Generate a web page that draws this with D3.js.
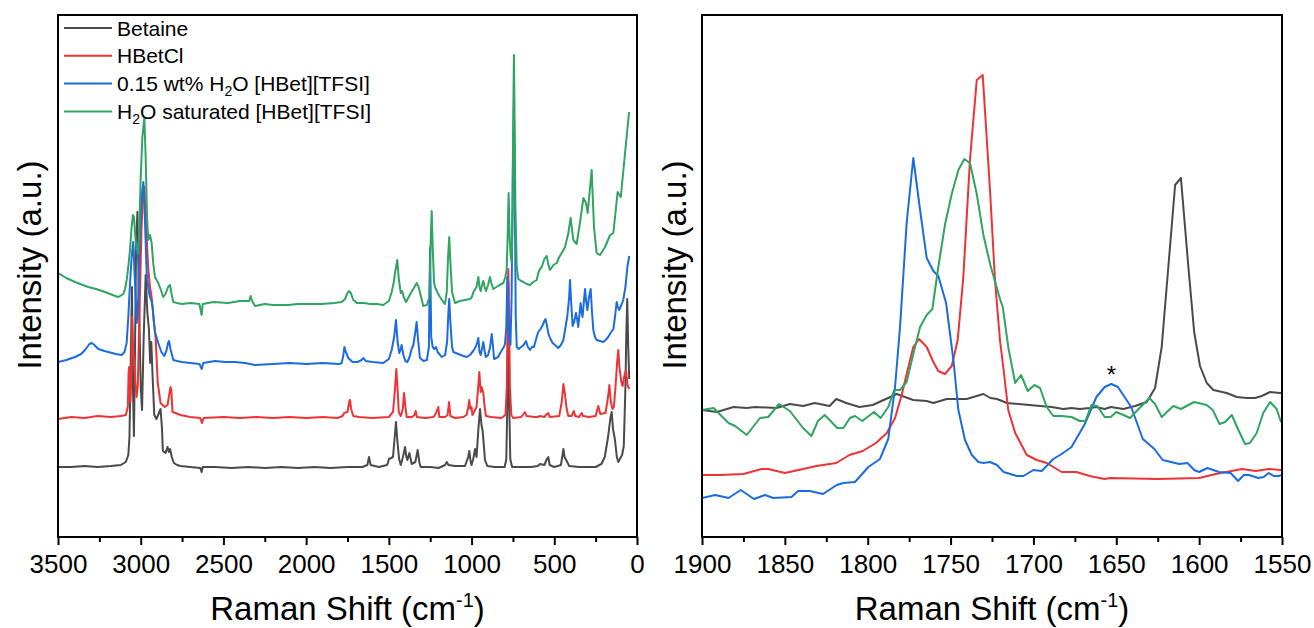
<!DOCTYPE html>
<html><head><meta charset="utf-8">
<script src="https://cdn.jsdelivr.net/npm/d3@7"></script>
<style>
body{margin:0;background:#fff}
svg{display:block}
text{font-family:Arial,'Liberation Sans',sans-serif;fill:#000}
</style>
</head><body>
<svg id="chart" width="1314" height="628"></svg>
<script>
// ---------- data ----------
const seriesNames = ["Betaine", "HBetCl", "0.15 wt% H2O [HBet][TFSI]", "H2O saturated [HBet][TFSI]"];
const seriesColors = ["#4a4a4a", "#ee3336", "#1b6ce0", "#2fa561"];
const leftTicks = [3500, 3000, 2500, 2000, 1500, 1000, 500, 0];
const leftMinorTicks = [3250, 2750, 2250, 1750, 1250, 750, 250];
const rightTicks = [1900, 1850, 1800, 1750, 1700, 1650, 1600, 1550];
const rightMinorTicks = [1875, 1825, 1775, 1725, 1675, 1625, 1575];
const asteriskMark = [1653, 153];

// [Raman shift (cm-1), intensity (a.u.)]
const leftBetaine = [[3500,70],[3420,70],[3340,71],[3260,70],[3180,71],[3120,72],[3090,75],[3075,82],[3068,100],[3060,180],[3053,250],[3047,150],[3041,101],[3035,180],[3028,290],[3020,325],[3012,250],[3000,150],[2992,127],[2982,200],[2970,262],[2960,225],[2950,207],[2943,174],[2936,195],[2928,160],[2918,122],[2905,118],[2895,122],[2880,128],[2872,110],[2866,86],[2850,84],[2838,90],[2830,85],[2823,88],[2812,80],[2800,74],[2780,72],[2760,71],[2700,70],[2640,69],[2632,65],[2625,70],[2550,70],[2450,69],[2350,70],[2250,69],[2150,70],[2050,69],[1950,70],[1850,69],[1750,70],[1660,70],[1630,72],[1620,80],[1610,72],[1560,70],[1510,72],[1499,78],[1475,80],[1462,105],[1457,115],[1448,95],[1438,78],[1428,72],[1415,80],[1402,90],[1394,80],[1388,77],[1376,84],[1368,78],[1362,73],[1340,75],[1326,87],[1315,74],[1307,70],[1250,70],[1200,69],[1160,72],[1150,75],[1140,72],[1100,71],[1040,71],[1020,80],[1014,86],[1006,76],[1000,72],[990,78],[979,88],[970,80],[958,110],[949,128],[940,112],[933,106],[925,90],[919,77],[905,71],[860,70],[800,70],[790,78],[783,140],[778,255],[773,140],[766,78],[755,70],[700,70],[640,70],[600,71],[586,73],[560,72],[545,78],[536,80],[528,72],[500,70],[460,72],[452,80],[445,88],[438,80],[425,76],[410,71],[350,70],[300,70],[250,70],[215,73],[195,80],[175,100],[160,120],[153,125],[145,108],[133,97],[122,80],[113,75],[100,79],[90,82],[80,91],[70,150],[65,200],[59,238],[53,190],[47,158]];

const leftHBetCl = [[3500,118],[3420,120],[3340,119],[3260,121],[3180,120],[3120,121],[3090,122],[3078,130],[3073,165],[3070,170],[3066,150],[3062,135],[3057,160],[3052,220],[3046,190],[3035,160],[3025,140],[3018,150],[3005,240],[2995,310],[2985,345],[2978,350],[2970,320],[2955,270],[2944,250],[2934,240],[2920,214],[2910,200],[2897,154],[2880,134],[2855,130],[2838,132],[2820,150],[2815,147],[2808,125],[2790,124],[2760,122],[2700,120],[2640,119],[2630,114],[2620,119],[2500,120],[2400,119],[2300,120],[2200,119],[2100,120],[2000,119],[1900,120],[1810,119],[1780,121],[1770,124],[1750,125],[1740,135],[1735,137],[1728,128],[1715,121],[1680,120],[1600,119],[1500,120],[1475,125],[1462,150],[1455,168],[1448,150],[1440,125],[1428,121],[1416,128],[1408,144],[1400,130],[1392,120],[1360,120],[1345,122],[1338,126],[1330,120],[1280,119],[1230,120],[1215,124],[1201,130],[1195,120],[1160,120],[1145,122],[1136,135],[1128,121],[1100,119],[1050,120],[1030,122],[1020,130],[1014,137],[1008,128],[1000,130],[995,122],[985,125],[970,130],[960,150],[953,165],[945,145],[939,150],[929,144],[921,130],[913,121],[880,120],[820,119],[795,122],[787,150],[781,230],[778,268],[774,230],[768,150],[760,122],[748,119],[700,120],[686,123],[677,125],[668,121],[620,120],[600,120],[586,121],[560,120],[545,123],[536,124],[528,120],[470,121],[455,135],[445,153],[435,142],[425,128],[415,121],[395,121],[388,124],[381,126],[374,121],[350,120],[334,124],[326,121],[290,120],[250,121],[234,131],[222,123],[190,124],[175,140],[167,152],[158,135],[148,128],[140,130],[130,150],[120,175],[113,187],[106,170],[95,155],[87,151],[78,160],[67,167],[57,152],[47,148]];

const leftTFSI015 = [[3500,175],[3450,177],[3397,180],[3360,183],[3337,187],[3310,193],[3296,194],[3280,192],[3256,188],[3220,186],[3196,185],[3150,183],[3115,182],[3098,185],[3085,194],[3075,220],[3065,253],[3055,280],[3045,295],[3036,260],[3024,214],[3015,240],[3005,300],[2995,340],[2984,355],[2975,320],[2964,264],[2955,250],[2944,240],[2935,236],[2928,230],[2920,215],[2914,205],[2894,194],[2875,185],[2858,181],[2845,186],[2835,194],[2829,196],[2820,188],[2803,177],[2780,176],[2752,175],[2700,174],[2645,173],[2631,168],[2622,174],[2551,176],[2490,175],[2430,175],[2370,174],[2309,172],[2200,173],[2100,174],[2000,173],[1900,174],[1800,173],[1785,174],[1775,182],[1769,190],[1760,185],[1745,179],[1720,175],[1690,175],[1665,177],[1654,179],[1640,176],[1600,175],[1534,174],[1500,178],[1483,187],[1468,200],[1457,217],[1447,195],[1437,184],[1428,188],[1423,192],[1412,182],[1400,176],[1388,175],[1375,180],[1362,188],[1352,192],[1340,205],[1332,215],[1322,195],[1312,179],[1290,176],[1270,177],[1258,190],[1251,289],[1244,200],[1235,190],[1225,188],[1215,190],[1205,185],[1190,182],[1181,180],[1160,182],[1148,195],[1140,225],[1135,238],[1128,215],[1118,190],[1110,185],[1080,183],[1050,181],[1030,180],[1010,182],[990,186],[975,190],[965,195],[959,199],[952,185],[945,182],[937,188],[929,195],[921,186],[914,180],[900,182],[888,190],[878,203],[870,190],[864,178],[840,180],[820,186],[805,190],[798,193],[790,210],[784,260],[778,215],[770,195],[765,192],[758,240],[750,380],[744,430],[738,330],[733,220],[727,190],[715,188],[700,190],[685,192],[671,196],[660,190],[647,187],[635,190],[623,190],[610,198],[597,205],[583,208],[570,212],[560,216],[553,218],[545,212],[535,203],[526,199],[510,194],[496,192],[476,189],[460,192],[445,197],[432,210],[421,221],[410,240],[405,257],[398,235],[389,211],[380,215],[369,224],[362,218],[355,210],[348,222],[341,234],[335,225],[329,220],[320,238],[314,248],[307,235],[300,227],[290,240],[280,248],[272,225],[264,207],[254,200],[244,197],[224,196],[204,195],[190,197],[174,200],[160,204],[143,208],[133,220],[123,235],[115,230],[108,227],[95,232],[83,237],[70,250],[58,270],[47,281]];

const leftTFSISat = [[3500,264],[3450,259],[3397,255],[3350,252],[3317,250],[3270,248],[3216,245],[3170,242],[3135,240],[3105,243],[3095,248],[3085,257],[3075,270],[3065,287],[3055,310],[3047,322],[3041,320],[3030,295],[3018,283],[3010,300],[3000,360],[2990,400],[2978,419],[2970,380],[2962,320],[2954,297],[2944,302],[2934,294],[2925,275],[2914,260],[2894,254],[2880,248],[2864,240],[2850,243],[2835,250],[2823,252],[2812,242],[2803,235],[2780,234],[2752,233],[2700,234],[2645,233],[2632,222],[2625,233],[2560,235],[2472,234],[2400,236],[2345,236],[2335,241],[2329,237],[2309,231],[2250,233],[2200,232],[2110,232],[2050,233],[1960,233],[1906,233],[1830,234],[1785,235],[1765,238],[1750,244],[1741,246],[1730,244],[1715,237],[1705,236],[1694,234],[1650,234],[1614,233],[1570,233],[1534,232],[1500,236],[1483,245],[1470,255],[1462,265],[1449,277],[1440,258],[1428,244],[1420,246],[1410,240],[1396,235],[1380,240],[1360,246],[1345,250],[1332,254],[1320,250],[1308,242],[1292,231],[1270,232],[1255,240],[1248,290],[1241,326],[1235,290],[1227,255],[1221,250],[1205,244],[1191,240],[1175,236],[1161,233],[1150,245],[1142,280],[1135,300],[1128,275],[1118,245],[1100,234],[1085,235],[1070,236],[1040,237],[1009,238],[998,240],[989,245],[970,250],[959,260],[952,250],[945,246],[937,252],[929,256],[921,250],[913,246],[900,252],[889,260],[879,253],[869,248],[850,250],[830,252],[808,254],[796,260],[788,267],[782,300],[776,344],[770,300],[764,282],[758,275],[752,320],[748,420],[744,482],[740,420],[735,330],[727,270],[717,258],[700,256],[687,255],[667,253],[647,252],[627,255],[606,257],[597,264],[586,268],[576,270],[560,278],[546,281],[535,272],[526,267],[505,272],[485,274],[470,280],[455,284],[435,290],[415,304],[401,319],[385,297],[365,293],[344,315],[324,339],[308,334],[298,324],[274,367],[260,310],[244,284],[224,282],[193,290],[163,302],[143,304],[117,345],[98,340],[48,425]];

const rightBetaine = [[1900,127],[1891,125],[1881,130],[1873,129],[1868,130],[1855,129],[1847,133],[1839,131],[1832,134],[1823,131],[1819,138],[1813,134],[1805,130],[1797,132],[1789,138],[1782.5,143],[1772.5,137],[1764.4,136],[1760.4,134],[1752.3,138],[1740.3,138],[1730.2,143],[1726,139],[1722,138],[1716,134],[1696,131],[1689,130],[1682,128],[1677,129],[1672,128],[1666,129],[1662,130],[1657,128],[1653.3,130],[1645.7,128],[1638.7,131],[1631.6,135],[1626.6,149],[1622.6,190],[1618.6,270],[1614.5,352],[1611,359],[1606.5,270],[1603,205],[1599.5,171],[1595.4,154],[1591.4,147],[1583.4,144],[1577.3,140],[1571.3,139],[1566.3,139],[1562.2,141],[1557.2,145],[1551.2,144],[1550,144]];

const rightHBetCl = [[1900,62],[1889,62],[1875,63],[1864,68],[1860,68],[1850,64],[1839,68],[1831,71],[1819,74],[1811,82],[1803,86],[1795,94],[1788.5,104],[1783.5,119],[1779.5,142],[1776.5,163],[1772.5,190],[1769,198],[1764.4,190],[1760.4,175],[1757.4,166],[1753.4,163],[1749.3,171],[1745.7,197],[1742.3,260],[1738.3,377],[1734.2,457],[1730.6,462],[1726.2,347],[1723.2,257],[1720.2,197],[1718.2,170],[1715.2,127],[1711,104],[1704,82],[1698,77],[1692,74],[1683,65],[1674,65],[1666,61],[1657,58],[1654,59],[1625,58],[1600,59],[1590,63],[1574,68],[1566,66],[1558,68],[1551,67],[1550,67]];

const rightTFSI015 = [[1900,39],[1892,42],[1884,39],[1876.6,47],[1868.6,38],[1862,42],[1857,39],[1846,40],[1842,46],[1835,46],[1827,43],[1818.7,52],[1814.7,54],[1807.7,55],[1799.6,70],[1792.6,78],[1787.6,98],[1783.5,150],[1780.5,210],[1776.5,314],[1772.5,379],[1768.4,327],[1764.4,279],[1760.4,266],[1757.4,261],[1752.7,234],[1748.3,177],[1745.3,127],[1741.3,97],[1737.2,82],[1733.2,75],[1730.2,74],[1726.2,75],[1722,72],[1718,65],[1710,61],[1706,61],[1700,67],[1695,66],[1688,78],[1683,83],[1677,90],[1669,113],[1662,140],[1657,150],[1653,153],[1649,150],[1641,130],[1634,98],[1627,88],[1622,77],[1612,73],[1607,74],[1603,67],[1600,65],[1595,69],[1588,65],[1581,64],[1576.5,56],[1573,62],[1570,62],[1564.3,59],[1561,60],[1558,64],[1555,61],[1552,61],[1550,62]];

const rightTFSISat = [[1900,127],[1893,129],[1884,114],[1880,111],[1873,102],[1865,119],[1860,120],[1853.5,133],[1847,126],[1839,109],[1834,101],[1830,116],[1826,122],[1823,117],[1818.4,109],[1814.7,109],[1810.7,119],[1807.7,121],[1803.3,116],[1796.2,125],[1792.2,119],[1787.6,130],[1784,147],[1780.5,147],[1776.5,155],[1772.5,183],[1768.4,210],[1764.4,222],[1761,228],[1757.4,270],[1753.3,313],[1749.3,343],[1745.3,367],[1741.7,378],[1738.3,374],[1734.2,343],[1730.2,302],[1726,272],[1720,237],[1718.5,230],[1715,188],[1711,154],[1707.5,162],[1703.4,146],[1699.4,152],[1696,149],[1692,130],[1688,121],[1683,121],[1677,120],[1672,116],[1668.6,116],[1665,132],[1661.5,131],[1657,120],[1653.4,120],[1650,125],[1645.7,122],[1641.7,119],[1637.7,126],[1630,139],[1626.6,133],[1622.6,120],[1615.6,131],[1611,128],[1603,135],[1595.4,132],[1591.8,127],[1587.7,113],[1584.3,115],[1580.3,122],[1576.3,107],[1572.3,93],[1569.3,94],[1565.3,104],[1561.3,124],[1557.2,135],[1553.2,128],[1550.8,116],[1550,114]];

// ---------- drawing ----------
const svg = d3.select("#chart");
const yTop = 15, yBot = 537;
const y = d3.scaleLinear().domain([0, 522]).range([yBot, yTop]);

const panels = [
  {x0: 58, x1: 637, domain: [3500, 0], ticks: leftTicks, minor: leftMinorTicks,
   series: [leftBetaine, leftHBetCl, leftTFSI015, leftTFSISat], ytitleX: 41},
  {x0: 702, x1: 1282, domain: [1900, 1550], ticks: rightTicks, minor: rightMinorTicks,
   series: [rightBetaine, rightHBetCl, rightTFSI015, rightTFSISat], ytitleX: 686}
];

panels.forEach((p, i) => {
  const x = d3.scaleLinear().domain(p.domain).range([p.x0, p.x1]);
  p.x = x;
  const clipId = "clip" + i;
  svg.append("clipPath").attr("id", clipId).append("rect")
    .attr("x", p.x0).attr("y", yTop).attr("width", p.x1 - p.x0).attr("height", yBot - yTop);

  const line = d3.line().x(d => x(d[0])).y(d => y(d[1]));
  const g = svg.append("g").attr("clip-path", `url(#${clipId})`);
  p.series.forEach((s, k) => {
    g.append("path").datum(s).attr("d", line)
      .attr("fill", "none").attr("stroke", seriesColors[k])
      .attr("stroke-width", 2).attr("stroke-linejoin", "round");
  });

  // axes
  const ax = svg.append("g").attr("transform", `translate(0,${yBot})`)
    .call(d3.axisBottom(x).tickValues(p.ticks).tickSize(8).tickPadding(10).tickFormat(d3.format("d")));
  ax.select(".domain").remove();
  ax.selectAll(".tick line").attr("stroke", "#000").attr("stroke-width", 2);
  ax.selectAll(".tick text").attr("font-size", 26).attr("font-family", "Arial, 'Liberation Sans', sans-serif");
  const mx = svg.append("g").attr("transform", `translate(0,${yBot})`)
    .call(d3.axisBottom(x).tickValues(p.minor).tickSize(5).tickFormat(""));
  mx.select(".domain").remove();
  mx.selectAll(".tick line").attr("stroke", "#000").attr("stroke-width", 2);

  // frame
  svg.append("rect").attr("x", p.x0).attr("y", yTop)
    .attr("width", p.x1 - p.x0).attr("height", yBot - yTop)
    .attr("fill", "none").attr("stroke", "#000").attr("stroke-width", 2);

  // x title
  const xt = svg.append("text").attr("x", (p.x0 + p.x1) / 2).attr("y", 620)
    .attr("text-anchor", "middle").attr("font-size", 33);
  xt.append("tspan").text("Raman Shift (cm");
  xt.append("tspan").attr("font-size", 20).attr("dy", -13).text("-1");
  xt.append("tspan").attr("dy", 13).text(")");

  // y title
  svg.append("text").attr("transform", `translate(${p.ytitleX},265) rotate(-90)`)
    .attr("text-anchor", "middle").attr("font-size", 33).text("Intensity (a.u.)");
});

// asterisk
const rp = panels[1];
svg.append("text").attr("x", rp.x(asteriskMark[0])).attr("y", y(asteriskMark[1]) - 1)
  .attr("text-anchor", "middle").attr("font-size", 24).text("*");

// legend
const legend = svg.append("g");
seriesNames.forEach((name, k) => {
  const cy = 28 + k * 27.8;
  legend.append("line").attr("x1", 64).attr("x2", 112).attr("y1", cy).attr("y2", cy)
    .attr("stroke", seriesColors[k]).attr("stroke-width", 2);
  const t = legend.append("text").attr("x", 117).attr("y", cy + 7.5).attr("font-size", 21);
  const parts = name.split("H2O");
  if (parts.length === 1) {
    t.text(name);
  } else {
    t.append("tspan").text(parts[0] + "H");
    t.append("tspan").attr("font-size", 14).attr("dy", 5).text("2");
    t.append("tspan").attr("dy", -5).text("O" + parts[1]);
  }
});
</script>
</body></html>
